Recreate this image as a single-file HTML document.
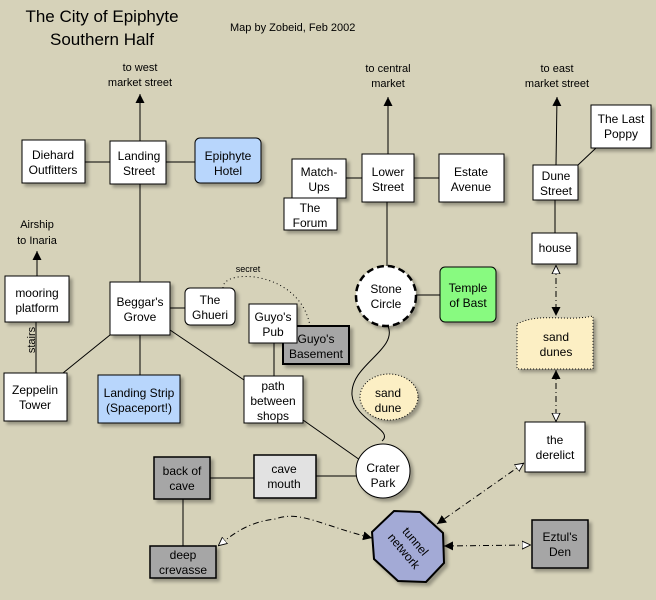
<!DOCTYPE html>
<html><head><meta charset="utf-8"><style>
html,body{margin:0;padding:0;background:#d6d2b9;}
svg{display:block;font-family:"Liberation Sans",sans-serif;}
</style></head><body>
<svg width="656" height="600" viewBox="0 0 656 600" xmlns="http://www.w3.org/2000/svg">
<defs>
<marker id="fa" viewBox="0 0 10 10" refX="10" refY="5" markerWidth="9" markerHeight="9" orient="auto-start-reverse" markerUnits="userSpaceOnUse"><path d="M0,0 L10,5 L0,10 z" fill="#000"/></marker>
<marker id="oa" viewBox="0 0 10 10" refX="10" refY="5" markerWidth="9" markerHeight="9" orient="auto-start-reverse" markerUnits="userSpaceOnUse"><path d="M0,0.5 L9.5,5 L0,9.5 z" fill="#fff" stroke="#000" stroke-width="1"/></marker>
<filter id="sh" x="-10%" y="-10%" width="130%" height="130%"><feDropShadow dx="3" dy="3" stdDeviation="1.5" flood-color="#000" flood-opacity="0.3"/></filter>
</defs>
<rect width="656" height="600" fill="#d6d2b9"/>

<g font-size="17" text-anchor="middle" fill="#000">
<text x="102" y="22">The City of Epiphyte</text>
<text x="102" y="45">Southern Half</text>
</g>
<text x="230" y="31" font-size="11">Map by Zobeid, Feb 2002</text>

<g font-size="11" text-anchor="middle">
<text x="140" y="71">to west</text><text x="140" y="86">market street</text>
<text x="37" y="228">Airship</text><text x="37" y="244">to Inaria</text>
<text x="388" y="72">to central</text><text x="388" y="87">market</text>
<text x="557" y="72">to east</text><text x="557" y="87">market street</text>
<text x="248" y="272" font-size="9">secret</text>
</g>
<text transform="translate(35,340) rotate(-90)" font-size="11" text-anchor="middle">stairs</text>

<g stroke="#000" stroke-width="1" fill="none">
<line x1="140" y1="141" x2="140" y2="94" marker-end="url(#fa)"/>
<line x1="37" y1="276" x2="37" y2="251" marker-end="url(#fa)"/>
<line x1="388" y1="154" x2="388" y2="97" marker-end="url(#fa)"/>
<line x1="556" y1="165" x2="557" y2="97" marker-end="url(#fa)"/>
<line x1="85" y1="162" x2="195" y2="162"/>
<line x1="140" y1="184" x2="140" y2="282"/>
<line x1="170" y1="308" x2="185" y2="308"/>
<line x1="110" y1="335" x2="63" y2="373"/>
<line x1="140" y1="335" x2="140" y2="375"/>
<line x1="170" y1="330" x2="244" y2="380"/>
<line x1="36" y1="322" x2="36" y2="373"/>
<line x1="274" y1="343" x2="274" y2="376"/>
<line x1="303" y1="420" x2="360" y2="460"/>
<path d="M223,288 C222,268 300,270 310,326" stroke-dasharray="1,3"/>
<line x1="346" y1="178" x2="362" y2="178"/>
<line x1="414" y1="178" x2="439" y2="178"/>
<line x1="387" y1="202" x2="387" y2="266"/>
<line x1="416" y1="295" x2="440" y2="295"/>
<path d="M388,326 C398,350 350,365 352,395 C354,420 395,430 382,441"/>
<line x1="578" y1="165" x2="596" y2="148"/>
<line x1="555" y1="200" x2="555" y2="233"/>
<line x1="210" y1="478" x2="254" y2="478"/>
<line x1="316" y1="476" x2="356" y2="476"/>
<line x1="183" y1="499" x2="183" y2="546"/>
<g stroke-dasharray="6,3,1,3">
<line x1="556" y1="265" x2="556" y2="316" marker-start="url(#oa)" marker-end="url(#fa)"/>
<line x1="556" y1="370" x2="556" y2="422" marker-start="url(#fa)" marker-end="url(#oa)"/>
<line x1="524" y1="463" x2="437" y2="524" marker-start="url(#oa)" marker-end="url(#fa)"/>
<line x1="444" y1="546" x2="531" y2="545" marker-start="url(#fa)" marker-end="url(#oa)"/>
<path d="M372,538 C320,525 300,510 275,519 C250,522 235,532 218,546" marker-start="url(#fa)" marker-end="url(#oa)"/>
</g>
</g>

<g stroke="#000" stroke-width="1" filter="url(#sh)">
<rect x="22" y="140" width="63" height="43" fill="#fff"/>
<rect x="110" y="141" width="56" height="43" fill="#fff"/>
<rect x="195" y="138" width="66" height="45" rx="5" fill="#b8d6fc"/>
<rect x="5" y="276" width="64" height="46" fill="#fff"/>
<rect x="110" y="282" width="60" height="53" fill="#fff"/>
<rect x="185" y="288" width="50" height="37" rx="5" fill="#fff"/>
<rect x="283" y="326" width="66" height="38" fill="#a6a6a6" stroke-width="2"/>
<rect x="249" y="304" width="48" height="39" fill="#fff"/>
<rect x="4" y="373" width="63" height="48" fill="#fff"/>
<rect x="98" y="375" width="82" height="48" fill="#b8d6fc"/>
<rect x="244" y="376" width="59" height="47" fill="#fff"/>
<rect x="292" y="159" width="54" height="39" fill="#fff"/>
<rect x="284" y="198" width="53" height="32" fill="#fff"/>
<rect x="362" y="154" width="52" height="48" fill="#fff"/>
<rect x="439" y="154" width="65" height="48" fill="#fff"/>
<rect x="533" y="165" width="45" height="35" fill="#fff"/>
<rect x="591" y="105" width="60" height="43" fill="#fff"/>
<rect x="532" y="233" width="45" height="31" fill="#fff"/>
<circle cx="386" cy="296" r="30" fill="#fff" stroke-width="2.5" stroke-dasharray="7,4"/>
<rect x="440" y="267" width="56" height="55" rx="5" fill="#88fa80"/>
<path d="M517,324 C540,312 565,322 593,316 L593,369 L517,369 Z" fill="#fcefc4" stroke-dasharray="1,2"/>
<ellipse cx="389" cy="397" rx="29" ry="23" fill="#fcefc4" stroke-dasharray="1,2"/>
<rect x="525" y="422" width="60" height="50" fill="#fff"/>
<circle cx="383" cy="471" r="27" fill="#fff"/>
<rect x="154" y="457" width="56" height="42" fill="#a6a6a6" stroke-width="1.5"/>
<rect x="254" y="455" width="62" height="43" fill="#e2e2e2" stroke-width="1.5"/>
<rect x="150" y="546" width="66" height="32" fill="#a6a6a6" stroke-width="1.5"/>
<polygon points="394,511 420,512 443,533 444,563 426,582 398,581 374,559 372,532" fill="#a3aad6" stroke-width="2"/>
<rect x="532" y="520" width="56" height="48" fill="#a6a6a6" stroke-width="1.5"/>
</g>

<g font-size="12" text-anchor="middle" fill="#000">
<text x="53" y="159">Diehard</text><text x="53" y="174">Outfitters</text>
<text x="139" y="160">Landing</text><text x="139" y="175">Street</text>
<text x="228" y="160">Epiphyte</text><text x="228" y="175">Hotel</text>
<text x="37" y="297">mooring</text><text x="37" y="312">platform</text>
<text x="140" y="306">Beggar's</text><text x="140" y="321">Grove</text>
<text x="210" y="304">The</text><text x="210" y="319">Ghueri</text>
<text x="273" y="321">Guyo's</text><text x="273" y="336">Pub</text>
<text x="316" y="343">Guyo's</text><text x="316" y="358">Basement</text>
<text x="35" y="394">Zeppelin</text><text x="35" y="409">Tower</text>
<text x="139" y="397">Landing Strip</text><text x="139" y="412">(Spaceport!)</text>
<text x="273" y="390">path</text><text x="273" y="405">between</text><text x="273" y="420">shops</text>
<text x="319" y="176">Match-</text><text x="319" y="191">Ups</text>
<text x="310" y="212">The</text><text x="310" y="227">Forum</text>
<text x="388" y="176">Lower</text><text x="388" y="191">Street</text>
<text x="471" y="176">Estate</text><text x="471" y="191">Avenue</text>
<text x="556" y="180">Dune</text><text x="556" y="195">Street</text>
<text x="621" y="123">The Last</text><text x="621" y="138">Poppy</text>
<text x="555" y="252">house</text>
<text x="386" y="293">Stone</text><text x="386" y="308">Circle</text>
<text x="468" y="292">Temple</text><text x="468" y="307">of Bast</text>
<text x="556" y="341">sand</text><text x="556" y="356">dunes</text>
<text x="388" y="397">sand</text><text x="388" y="412">dune</text>
<text x="555" y="444">the</text><text x="555" y="459">derelict</text>
<text x="383" y="472">Crater</text><text x="383" y="487">Park</text>
<text x="182" y="475">back of</text><text x="182" y="490">cave</text>
<text x="284" y="473">cave</text><text x="284" y="488">mouth</text>
<text x="183" y="559">deep</text><text x="183" y="574">crevasse</text>
<text x="560" y="541">Eztul's</text><text x="560" y="556">Den</text>
<g transform="translate(410,546) rotate(50)"><text x="0" y="-3">tunnel</text><text x="0" y="12">network</text></g>
</g>
</svg>
</body></html>
